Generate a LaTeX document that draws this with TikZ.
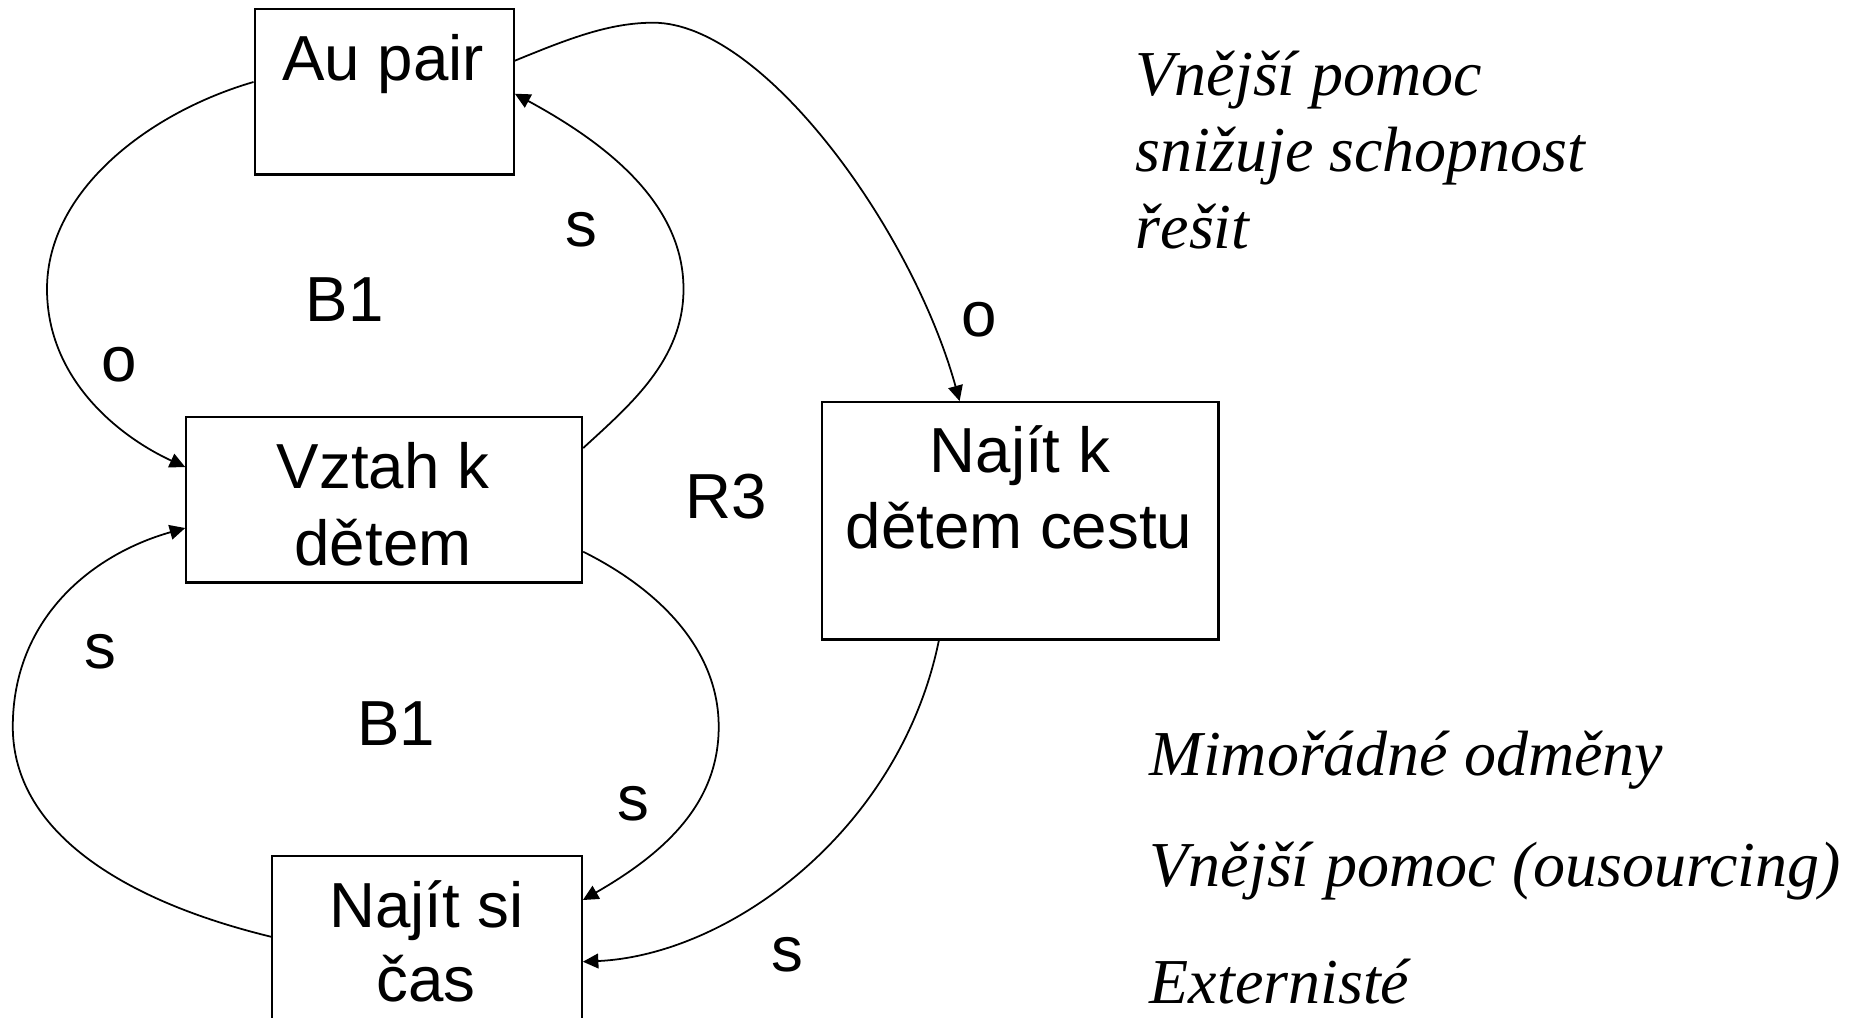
\documentclass[tikz,border=0pt]{standalone}
\usepackage{fontspec}
\setmainfont{Liberation Serif}
\newfontfamily\arialfont{Liberation Sans}
\usetikzlibrary{calc,arrows.meta}

\begin{document}
\begin{tikzpicture}[x=0.01cm,y=-0.01cm,
  box/.style={draw, line width=0.65pt, rectangle, inner sep=0pt, anchor=north west},
  word/.style={font=\arialfont\fontsize{18.1}{21.7}\selectfont, inner sep=0pt, anchor=base},
  note/.style={font=\itshape\fontsize{18.2}{21.8}\selectfont, inner sep=0pt, anchor=base west},
  link/.style={line width=0.5pt, -{Triangle[length=4.4pt,width=4.2pt]}},
]
\useasboundingbox (0,0) rectangle (1858,1017);

% variable boxes
\node[box, minimum width=2.589cm, minimum height=1.656cm] (au) at (253.5,7.6) {};
\node[box, minimum width=3.955cm, minimum height=1.653cm] (vz) at (185.2,416) {};
\node[box, minimum width=3.964cm, minimum height=2.372cm] (nk) at (820.8,401.1) {};
\node[box, minimum width=3.094cm, minimum height=1.900cm] (ns) at (271,855) {};

% box captions
\node[word] (aut) at (383.2,80.3) {Au pair};
\node[word] (vz1) at (383,488.7) {Vztah k};
\node[word] (vz2) at (383,565) {dětem};
\node[word] (nk1) at (1020,472.7) {Najít k};
\node[word] (nk2) at (1019,548.6) {dětem cestu};
\node[word] (ns1) at (426.7,927.3) {Najít si};
\node[word] (ns2) at (425.9,1001.7) {čas};

% polarity and loop labels
\node[word] (s1) at (581,246) {s};
\node[word] (b1a) at (344.8,321) {B1};
\node[word] (o1) at (118.8,381.6) {o};
\node[word] (o2) at (979,336) {o};
\node[word] (r3) at (726,518) {R3};
\node[word] (s2) at (100.5,668) {s};
\node[word] (b1b) at (396,745) {B1};
\node[word] (s3) at (633,820) {s};
\node[word] (s4) at (787.6,971.7) {s};

% side notes
\node[note] (n1) at (1135,95) {Vnější pomoc};
\node[note] (n2) at (1135,171.7) {snižuje schopnost};
\node[note] (n3) at (1135,248) {řešit};
\node[note] (n4) at (1149,775) {Mimořádné odměny};
\node[note] (n5) at (1149,886.7) {Vnější pomoc (ousourcing)};
\node[note] (n6) at (1149,1003) {Externisté};

% upper balancing loop
\draw[link] ($(au.north west)+(0,74.4)$) .. controls (150,112) and (47,190) .. (47,289)
  .. controls (47,380) and (120,437) .. ($(vz.north west)+(0,51)$);
\draw[link] ($(vz.north east)+(0,32)$) .. controls (630,405) and (683.5,360) .. (683.5,289)
  .. controls (683.5,200) and (600,140) .. ($(au.north east)+(0,86.1)$);

% reinforcing loop
\draw[link] ($(au.north east)+(0,53.1)$) .. controls (570,38) and (610,22.7) .. (653.3,22.7)
  .. controls (763.3,22.7) and (912.4,230) .. ($(nk.north west)+(138.8,0)$);
\draw[link] ($(nk.south west)+(118,0)$) .. controls (900,830) and (730,955) .. ($(ns.north east)+(0,106.7)$);

% lower balancing loop
\draw[link] ($(vz.north east)+(0,135.7)$) .. controls (660,590) and (718.7,650) .. (718.7,726.7)
  .. controls (718.7,800) and (670,850) .. ($(ns.north east)+(0,45)$);
\draw[link] ($(ns.north west)+(0,81.7)$) .. controls (120,900) and (12.8,830) .. (12.8,726.7)
  .. controls (12.8,620) and (90,555) .. ($(vz.north west)+(0,112)$);
\end{tikzpicture}
\end{document}
